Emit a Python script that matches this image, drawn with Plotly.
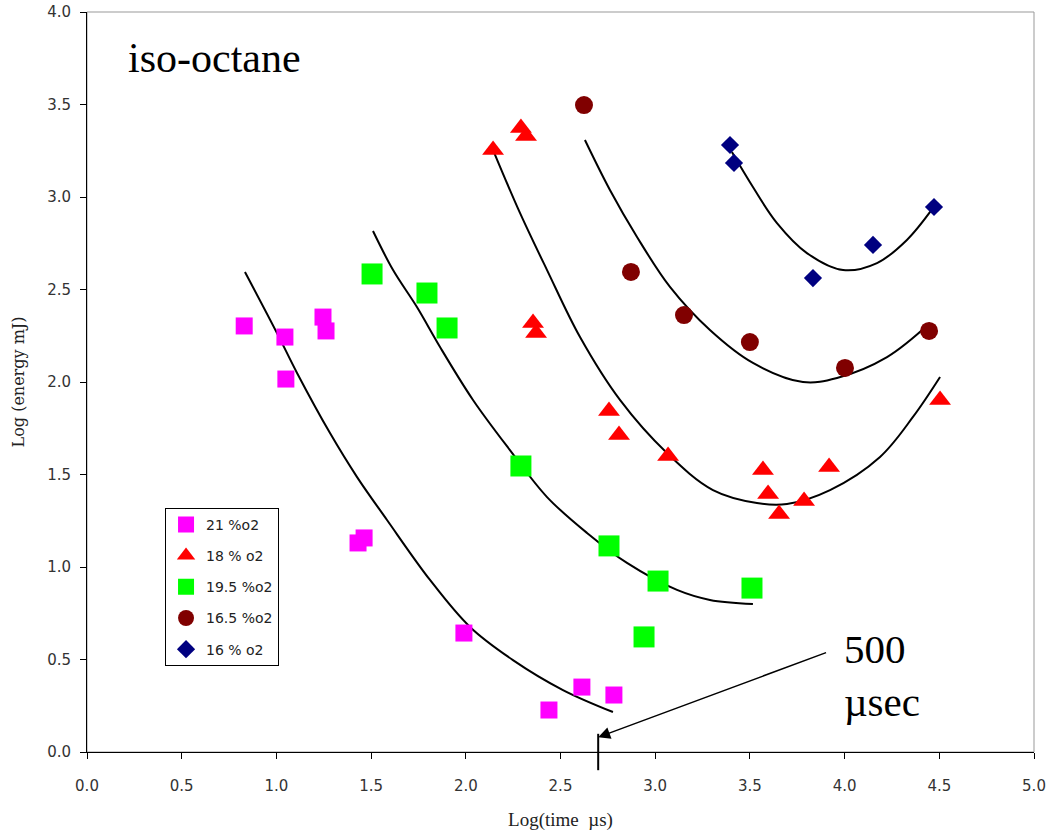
import plotly.graph_objects as go

# ---- data ----
o21_x = [0.83, 1.045, 1.05, 1.246, 1.262, 1.431, 1.463, 1.99, 2.439, 2.613, 2.782]
o21_y = [2.303, 2.243, 2.016, 2.351, 2.276, 1.130, 1.157, 0.643, 0.227, 0.351, 0.308]

o18_x = [2.144, 2.291, 2.318, 2.355, 2.371, 2.756, 2.809, 3.068, 3.569, 3.596, 3.654, 3.786, 3.918, 4.504]
o18_y = [3.254, 3.373, 3.330, 2.319, 2.265, 1.843, 1.714, 1.600, 1.524, 1.395, 1.286, 1.357, 1.541, 1.903]

o195_x = [1.505, 1.795, 1.901, 2.291, 2.756, 3.015, 2.941, 3.511]
o195_y = [2.584, 2.481, 2.292, 1.546, 1.114, 0.924, 0.622, 0.886]

o165_x = [2.624, 2.872, 3.152, 3.500, 4.002, 4.446]
o165_y = [3.497, 2.595, 2.362, 2.216, 2.076, 2.276]

o16_x = [3.395, 3.416, 3.833, 4.150, 4.472]
o16_y = [3.281, 3.184, 2.562, 2.741, 2.946]

# trend curves
c21_x = [0.834, 1.003, 1.109, 1.283, 1.426, 1.584, 1.811, 2.022, 2.249, 2.513, 2.777]
c21_y = [2.595, 2.265, 2.049, 1.724, 1.486, 1.254, 0.930, 0.676, 0.497, 0.335, 0.216]

c195_x = [1.510, 1.616, 1.742, 1.864, 2.038, 2.233, 2.429, 2.640, 2.851, 3.115, 3.289, 3.516]
c195_y = [2.816, 2.605, 2.405, 2.189, 1.903, 1.632, 1.378, 1.184, 1.022, 0.876, 0.822, 0.800]

c18_x = [2.144, 2.286, 2.429, 2.603, 2.814, 3.062, 3.305, 3.537, 3.696, 3.923, 4.187, 4.361, 4.504]
c18_y = [3.254, 2.914, 2.605, 2.243, 1.903, 1.616, 1.416, 1.346, 1.341, 1.416, 1.595, 1.811, 2.027]

c165_x = [2.629, 2.761, 2.904, 3.078, 3.289, 3.516, 3.780, 3.960, 4.224, 4.451]
c165_y = [3.308, 3.038, 2.784, 2.514, 2.281, 2.103, 2.000, 2.022, 2.135, 2.319]

c16_x = [3.405, 3.516, 3.643, 3.801, 3.992, 4.171, 4.329, 4.467]
c16_y = [3.243, 3.054, 2.859, 2.697, 2.605, 2.643, 2.768, 2.941]

marker_time = [2.699]   # log10(500 us)
marker_level = [0.0]

series_names = ["21 %o2", "18 % o2", "19.5 %o2", "16.5 %o2", "16 % o2"]

fig = go.Figure()

# curves
for cx, cy in [(c21_x, c21_y), (c195_x, c195_y), (c18_x, c18_y), (c165_x, c165_y), (c16_x, c16_y)]:
    fig.add_trace(go.Scatter(x=cx, y=cy, mode="lines", line=dict(color="black", width=2, shape="spline"),
                             showlegend=False, hoverinfo="skip"))

# points
specs = [
    (o21_x, o21_y, "square", "#FF00FF", 17),
    (o18_x, o18_y, "triangle-up", "#FF0000", 19),
    (o195_x, o195_y, "square", "#00FF00", 21),
    (o165_x, o165_y, "circle", "#800000", 18),
    (o16_x, o16_y, "diamond", "#000080", 14),
]
for i, (sx, sy, sym, col, sz) in enumerate(specs):
    fig.add_trace(go.Scatter(x=sx, y=sy, mode="markers", name=series_names[i], legendgroup=str(i),
                             marker=dict(symbol=sym, color=col, size=sz, line=dict(width=0))))

# 500 usec tick mark
fig.add_trace(go.Scatter(x=marker_time, y=marker_level, mode="markers", showlegend=False, hoverinfo="skip",
                         cliponaxis=False,
                         marker=dict(symbol="line-ns-open", size=26, color="black",
                                     line=dict(color="black", width=2))))

fig.add_annotation(x=marker_time[0], y=0.08, ax=3.91, ay=0.54, xref="x", yref="y", axref="x", ayref="y",
                   text="", showarrow=True, arrowhead=2, arrowsize=1.6, arrowwidth=1.5, arrowcolor="black")
fig.add_annotation(x=3.985, y=0.69, xref="x", yref="y", xanchor="left", yanchor="top", align="left",
                   text="500<br>µsec", showarrow=False,
                   font=dict(family="Liberation Serif", size=41, color="black"))
fig.add_annotation(x=0.041, y=0.938, xref="paper", yref="paper", xanchor="left", yanchor="middle",
                   text="iso-octane", showarrow=False,
                   font=dict(family="Liberation Serif", size=42, color="black"))

# gray frame
fig.add_shape(type="rect", xref="paper", yref="paper", x0=0, y0=0, x1=1, y1=1,
              line=dict(color="#999999", width=1), layer="below")

fig.update_layout(
    width=1050, height=835,
    margin=dict(l=87, r=16, t=12, b=83),
    paper_bgcolor="white", plot_bgcolor="white",
    legend=dict(x=0.0824, y=0.33, xanchor="left", yanchor="top",
                bgcolor="white", bordercolor="black", borderwidth=1,
                font=dict(family="DejaVu Sans", size=14, color="#222222"),
                tracegroupgap=10, itemsizing="trace"),
    xaxis=dict(range=[0, 5], dtick=0.5, tick0=0, tickformat=".1f", showgrid=False, zeroline=False,
               automargin=False,
               showline=True, linecolor="black", linewidth=1, ticks="outside", ticklen=6,
               tickcolor="black", ticklabelstandoff=14,
               tickfont=dict(family="DejaVu Sans", size=15, color="#333333"),
               title=dict(text="Log(time  µs)", font=dict(family="Liberation Serif", size=19, color="#222222"),
                          standoff=18)),
    yaxis=dict(range=[0, 4], dtick=0.5, tick0=0, tickformat=".1f", showgrid=False, zeroline=False,
               automargin=False,
               showline=True, linecolor="black", linewidth=1, ticks="outside", ticklen=6,
               tickcolor="black", ticklabelstandoff=6,
               tickfont=dict(family="DejaVu Sans", size=15, color="#333333"),
               title=dict(text="Log (energy mJ)", font=dict(family="DejaVu Serif", size=16, color="#222222"),
                          standoff=18)),
)

fig.write_html("out.html")
